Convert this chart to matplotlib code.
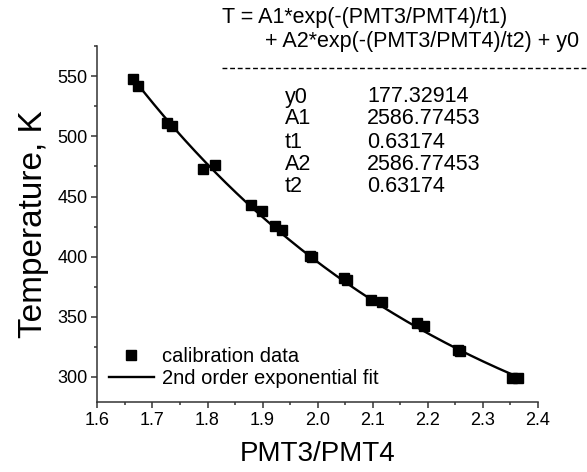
import numpy as np
import matplotlib
matplotlib.use("Agg")
import matplotlib.pyplot as plt
from matplotlib.lines import Line2D
from matplotlib.ticker import MultipleLocator

plt.rcParams['font.family'] = ['Liberation Sans', 'DejaVu Sans']

# Calibration measurements: PMT3/PMT4 signal ratio vs. temperature (K)
ratio = [1.665, 1.673, 1.726, 1.735, 1.792, 1.814, 1.879, 1.899, 1.923, 1.936,
         1.986, 1.990, 2.048, 2.053, 2.098, 2.117, 2.180, 2.194, 2.255, 2.259,
         2.353, 2.365]
temperature = [548.1, 541.9, 511.0, 508.4, 472.5, 476.2, 442.7, 438.0, 425.4, 422.1,
               400.5, 400.0, 382.4, 381.0, 363.7, 362.5, 344.6, 342.6, 322.0, 321.5,
               299.0, 299.2]

# Fitted parameters of the double-exponential model
param_names = ["y0", "A1", "t1", "A2", "t2"]
param_values = [177.32914, 2586.77453, 0.63174, 2586.77453, 0.63174]
y0, A1, t1, A2, t2 = param_values

x_ticks = [1.6, 1.7, 1.8, 1.9, 2.0, 2.1, 2.2, 2.3, 2.4]
y_ticks = [300, 350, 400, 450, 500, 550]

fig = plt.figure(figsize=(5.87, 4.72), dpi=100)
ax = fig.add_axes([0.166, 0.148, 0.750, 0.754])

xf = np.linspace(min(ratio), max(ratio), 300)
yf = A1 * np.exp(-xf / t1) + A2 * np.exp(-xf / t2) + y0

ax.plot(ratio, temperature, linestyle='none', marker='s', markersize=6.7,
        color='black', label='calibration data', zorder=3)
ax.plot(xf, yf, color='black', linewidth=1.7, label='2nd order exponential fit', zorder=2)

ax.set_xlim(1.6, 2.4)
ax.set_ylim(279, 575)
ax.set_xticks(x_ticks)
ax.set_yticks(y_ticks)
ax.xaxis.set_minor_locator(MultipleLocator(0.05))
ax.yaxis.set_minor_locator(MultipleLocator(25))
ax.set_xticklabels([f"{v:.1f}" for v in x_ticks])

for side in ('top', 'right'):
    ax.spines[side].set_visible(False)
for side in ('left', 'bottom'):
    ax.spines[side].set_color('#333333')
    ax.spines[side].set_linewidth(1.1)

ax.tick_params(which='major', direction='out', length=4, width=1.1,
               color='#333333', labelsize=13, pad=3)
ax.tick_params(which='minor', direction='out', length=2.5, width=1.1, color='#333333')

ax.set_xlabel('PMT3/PMT4', fontsize=20, labelpad=9)
ax.set_ylabel('Temperature, K', fontsize=24, labelpad=6)

ax.legend(loc='lower left', bbox_to_anchor=(-0.005, 0.0), frameon=False, fontsize=14.5,
          handlelength=2.2, handletextpad=0.4, borderaxespad=0.3, labelspacing=0.15)

# Model equation and fitted parameter table
W, H = 587.0, 472.0
fig.text(222 / W, 1 - 18 / H, 'T = A1*exp(-(PMT3/PMT4)/t1)', fontsize=15.5, va='center', ha='left')
fig.text(265 / W, 1 - 42 / H, '+ A2*exp(-(PMT3/PMT4)/t2) + y0', fontsize=15.5, va='center', ha='left')
fig.add_artist(Line2D([222 / W, 1.0], [1 - 68 / H, 1 - 68 / H], transform=fig.transFigure,
                      color='black', linewidth=1.0, linestyle=(0, (3.5, 2))))
rows_y = [97, 119, 142, 164, 187]
for name, val, py in zip(param_names, param_values, rows_y):
    fig.text(285 / W, 1 - py / H, name, fontsize=15.5, va='center', ha='left')
    fig.text(367 / W, 1 - py / H, f"{val:.5f}", fontsize=15.5, va='center', ha='left')

fig.savefig('out.png', dpi=100)
